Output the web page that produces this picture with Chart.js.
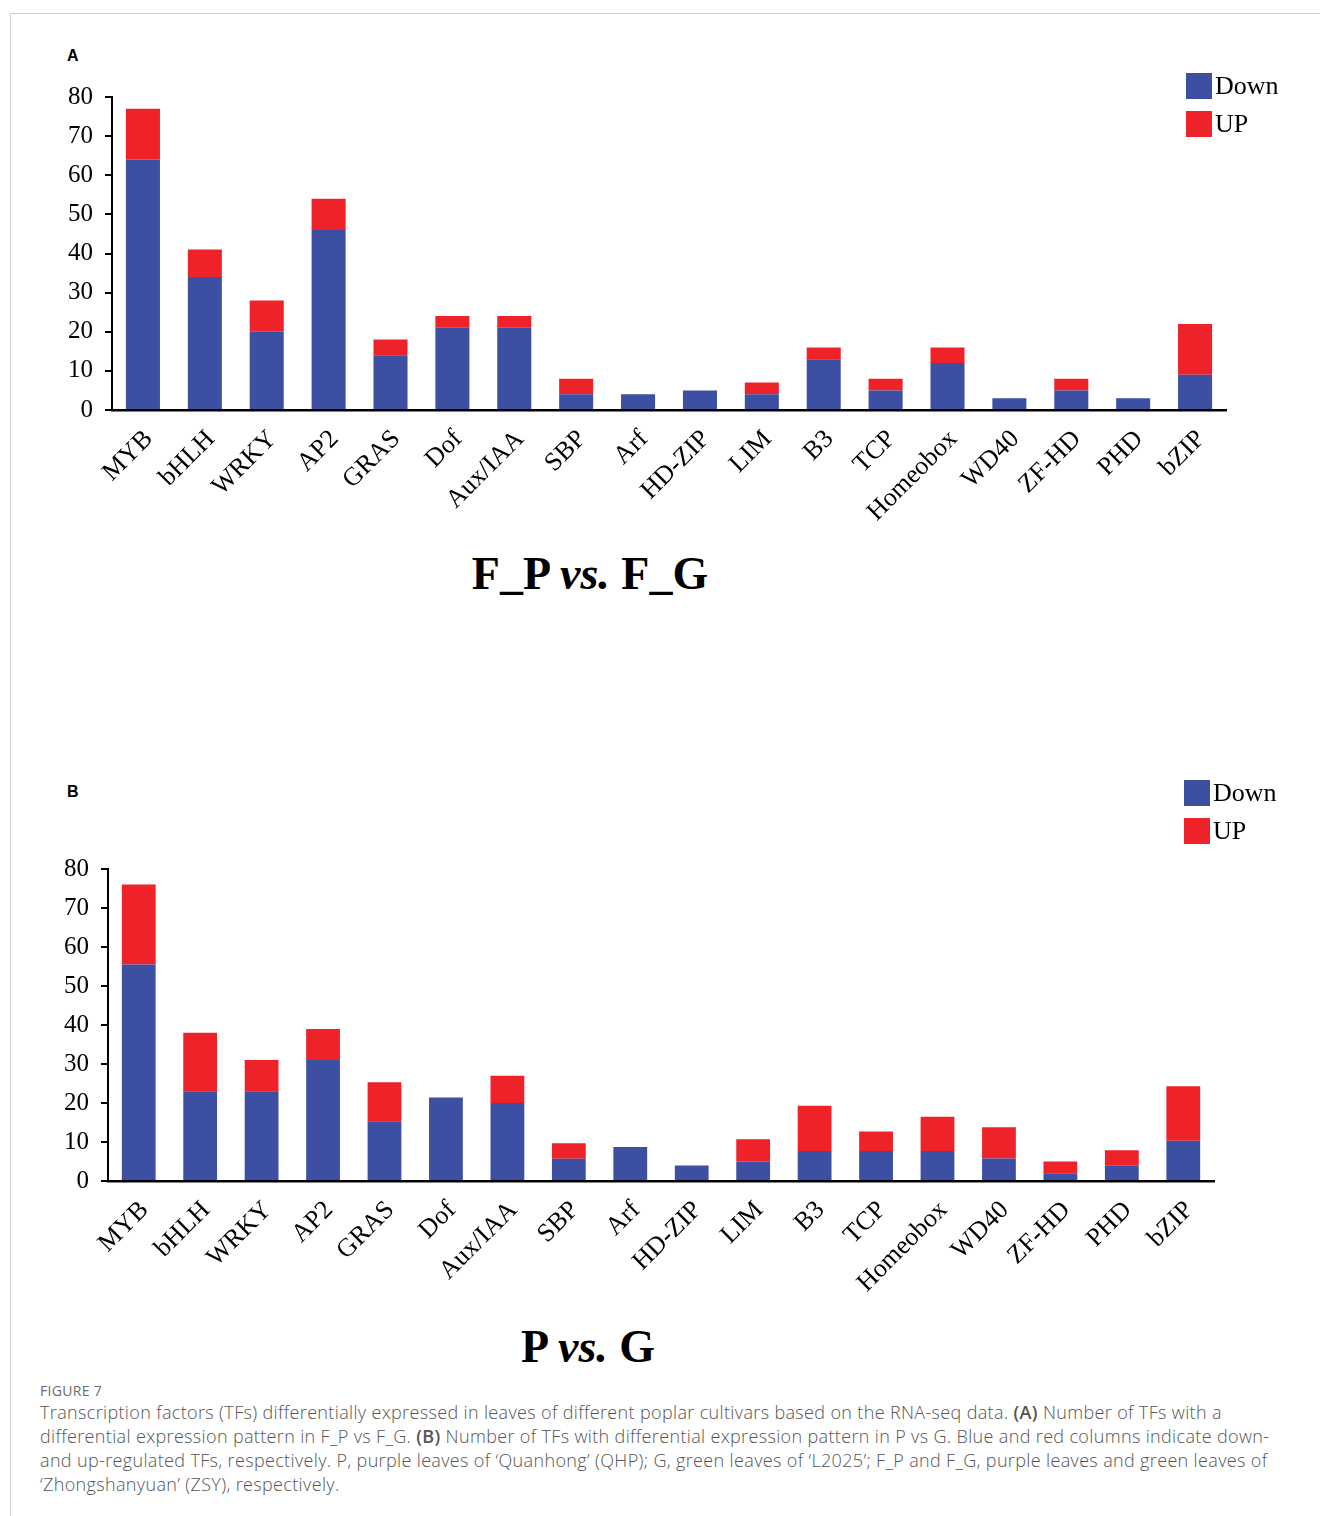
<!DOCTYPE html>
<html lang="en">
<head>
  <meta charset="UTF-8">
  <title>Figure 7</title>
  <script src="https://cdn.jsdelivr.net/npm/chart.js"></script>
  <style>
    body { margin: 0; background: #fff; }
    #page { position: relative; width: 1320px; height: 1516px; overflow: hidden; }
    #frame { position: absolute; left: 10px; top: 13px; width: 1320px; height: 1520px;
      border-left: 1px solid #cfcfcf; border-top: 1px solid #cfcfcf; }
    .letter { position: absolute; left: 67px; font: bold 16px "Liberation Sans", Arial, sans-serif; }
    canvas { position: absolute; left: 0; }
    .leg { position: absolute; font: 26px "Liberation Serif", serif; color: #000; }
    .leg div { display: flex; align-items: center; height: 38px; }
    .sw { width: 26px; height: 26px; margin-right: 3px; }
    .title { position: absolute; left: 0; width: 1180px; text-align: center; line-height: 1;
      font: bold 46px "Liberation Serif", serif; }
    #figlabel { position: absolute; left: 40px; top: 1381px; font: 400 14px "Open Sans", sans-serif; color: #6b6b6b;
      letter-spacing: 0.3px; }
    #caption { position: absolute; left: 40px; top: 1400px; font: 300 18px "Open Sans", sans-serif; color: #555;
      line-height: 24px; white-space: nowrap; letter-spacing: 0.35px; }
    #caption b { font-weight: 600; }
  </style>
</head>
<body>
<div id="page">
  <div id="frame"></div>

  <div class="letter" style="top:47px">A</div>
  <canvas id="chartA" width="1320" height="480" style="top:60px"></canvas>
  <div class="leg" style="left:1186px; top:67px">
    <div><span class="sw" style="background:#3d4fa3"></span>Down</div>
    <div><span class="sw" style="background:#ee2229"></span>UP</div>
  </div>
  <div class="title" style="top:547px">F_P <i>vs.</i> F_G</div>

  <div class="letter" style="top:783px">B</div>
  <canvas id="chartB" width="1320" height="480" style="top:830px"></canvas>
  <div class="leg" style="left:1184px; top:774px">
    <div><span class="sw" style="background:#3d4fa3"></span>Down</div>
    <div><span class="sw" style="background:#ee2229"></span>UP</div>
  </div>
  <div class="title" style="top:1320px; width:1176px">P <i>vs.</i> G</div>

  <div id="figlabel">FIGURE 7</div>
  <div id="caption">
    Transcription factors (TFs) differentially expressed in leaves of different poplar cultivars based on the RNA-seq data. <b>(A)</b> Number of TFs with a<br>
    differential expression pattern in F_P vs F_G. <b>(B)</b> Number of TFs with differential expression pattern in P vs G. Blue and red columns indicate down-<br>
    and up-regulated TFs, respectively. P, purple leaves of ‘Quanhong’ (QHP); G, green leaves of ‘L2025’; F_P and F_G, purple leaves and green leaves of<br>
    ‘Zhongshanyuan’ (ZSY), respectively.
  </div>
</div>

<script>
  // familias de factores de transcripcion
  const families = ['MYB', 'bHLH', 'WRKY', 'AP2', 'GRAS', 'Dof', 'Aux/IAA', 'SBP', 'Arf', 'HD-ZIP',
    'LIM', 'B3', 'TCP', 'Homeobox', 'WD40', 'ZF-HD', 'PHD', 'bZIP'];
  const yTicks = [0, 10, 20, 30, 40, 50, 60, 70, 80];

  // A: F_P vs. F_G
  const downA = [64, 34, 20, 46, 14, 21, 21, 4, 4, 5, 4, 13, 5, 12, 3, 5, 3, 9];
  const upA   = [13, 7, 8, 8, 4, 3, 3, 4, 0, 0, 3, 3, 3, 4, 0, 3, 0, 13];

  // B: P vs. G
  const downB = [55.5, 23, 23, 31, 15.3, 21.4, 20, 5.7, 8.7, 4, 5, 7.7, 7.7, 7.7, 5.8, 2, 3.9, 10.3];
  const upB   = [20.5, 15, 8, 8, 10, 0, 7, 4, 0, 0, 5.7, 11.6, 5, 8.8, 8, 3, 4, 14];

  const blue = '#3d4fa3';
  const red = '#ee2229';

  function crearGrafico(id, down, up, axisW, padTop, padRight, xH) {
    const ctx = document.getElementById(id).getContext('2d');
    return new Chart(ctx, {
      type: 'bar',
      data: {
        labels: families,
        datasets: [
          { label: 'Down', data: down, backgroundColor: blue },
          { label: 'UP', data: up, backgroundColor: red }
        ]
      },
      options: {
        responsive: false,
        animation: false,
        devicePixelRatio: 1,
        layout: { padding: { top: padTop, right: padRight, left: 0, bottom: 0 } },
        datasets: { bar: { categoryPercentage: 1, barPercentage: 0.55 } },
        plugins: { legend: { display: false }, tooltip: { enabled: false } },
        scales: {
          x: {
            stacked: true,
            grid: { display: false },
            border: { display: true, color: '#000', width: 2.5 },
            afterFit: s => { s.height = xH; },
            ticks: {
              autoSkip: false, minRotation: 45, maxRotation: 45, padding: 6, labelOffset: 6,
              color: '#000', font: { family: 'Liberation Serif', size: 26 }
            }
          },
          y: {
            stacked: true,
            min: 0, max: 80,
            afterFit: s => { s.width = axisW; },
            afterBuildTicks: s => { s.ticks = yTicks.map(v => ({ value: v })); },
            grid: { display: true, drawOnChartArea: false, drawTicks: true, tickLength: 7, color: '#000', lineWidth: 2 },
            border: { display: true, color: '#000', width: 2 },
            ticks: { padding: 12, color: '#000', font: { family: 'Liberation Serif', size: 25 } }
          }
        }
      }
    });
  }

  crearGrafico('chartA', downA, upA, 112, 37, 94, 130);
  crearGrafico('chartB', downB, upB, 108, 39, 106, 129);
</script>
</body>
</html>
